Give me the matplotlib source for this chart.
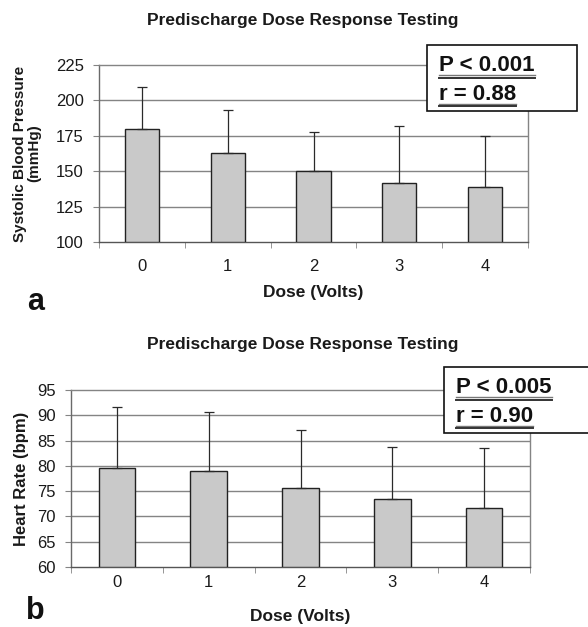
import matplotlib
matplotlib.use("Agg")
import matplotlib.pyplot as plt
import numpy as np

plt.rcParams['font.family'] = ['Liberation Sans', 'DejaVu Sans']

doses = [0, 1, 2, 3, 4]
dose_labels = ["0", "1", "2", "3", "4"]

sbp_mean = [180, 163, 150, 141.5, 138.5]
sbp_upper = [209.5, 193, 177.5, 182, 175]
sbp_ticks = [100, 125, 150, 175, 200, 225]

hr_mean = [79.5, 79.0, 75.6, 73.4, 71.6]
hr_upper = [91.6, 90.7, 87.0, 83.7, 83.5]
hr_ticks = [60, 65, 70, 75, 80, 85, 90, 95]

title = "Predischarge Dose Response Testing"
xlabel = "Dose (Volts)"
sbp_ylabel = "Systolic Blood Pressure\n(mmHg)"
hr_ylabel = "Heart Rate (bpm)"
sbp_stats = ["P < 0.001", "r = 0.88"]
hr_stats = ["P < 0.005", "r = 0.90"]

W, H = 588, 627
fig = plt.figure(figsize=(W / 100, H / 100), dpi=100)

def fx(px):
    return px / W

def fy(py):
    return 1 - py / H

GRID = '#848484'
TXT = '#1a1a1a'

def panel(box, means, uppers, ticks, ylabel, ylab_size, ylab_x, title_y, xpad,
          xlab_y, letter, letter_xy, stat_box, stats):
    l, t, r, b = box
    rect = [fx(l), fy(b), fx(r - l), (b - t) / H]
    ax = fig.add_axes(rect)
    x = np.array(doses)
    means = np.array(means)
    err = np.array(uppers) - means
    ax.bar(x, means - ticks[0], bottom=ticks[0], width=0.4, color='#c9c9c9',
           edgecolor='#222222', linewidth=1.0, zorder=3)
    ax.errorbar(x, means, yerr=[np.zeros_like(err), err], fmt='none',
                ecolor='#2a2a2a', elinewidth=0.9, capsize=3.3, capthick=0.9, zorder=4)
    ax.set_xlim(-0.5, 4.5)
    ax.set_ylim(ticks[0], ticks[-1])
    ax.set_yticks(ticks)
    ax.set_yticklabels([str(v) for v in ticks], fontsize=12, color=TXT)
    ax.set_xticks(doses)
    ax.set_xticklabels(dose_labels, fontsize=12, color=TXT)
    ax.set_xticks(np.arange(-0.5, 5.0, 1.0), minor=True)
    ax.tick_params(axis='x', which='major', length=0, pad=xpad)
    ax.tick_params(axis='x', which='minor', length=4, color=GRID, direction='out')
    ax.tick_params(axis='y', length=4, color=GRID, pad=7)
    for v in ticks[1:-1]:
        ax.axhline(v, color=GRID, lw=1.0, zorder=1)
    for s in ax.spines.values():
        s.set_color(GRID)
        s.set_linewidth(1.0)
    ax.spines['bottom'].set_color('#555555')
    ax.spines['left'].set_color('#6a6a6a')
    ax.set_facecolor('white')
    fig.text(fx(ylab_x), fy((t + b) / 2), ylabel, rotation=90,
             ha='center', va='center', fontsize=ylab_size, fontweight='bold',
             color=TXT, linespacing=1.0)
    fig.text(fx(303), fy(title_y), title, ha='center', va='center',
             fontsize=12.5, fontweight='bold', color=TXT)
    fig.text(fx((l + r) / 2), fy(xlab_y), xlabel, ha='center', va='center',
             fontsize=12.5, fontweight='bold', color=TXT)
    fig.text(fx(letter_xy[0]), fy(letter_xy[1]), letter, ha='left', va='baseline',
             fontsize=22, fontweight='bold', color='#111111')
    # stats box
    bx0, by0, bx1, by1 = stat_box
    patch = plt.Rectangle((fx(bx0), fy(by1)), fx(bx1 - bx0), (by1 - by0) / H,
                          transform=fig.transFigure, facecolor='white',
                          edgecolor='#111111', linewidth=1.2, zorder=10)
    fig.add_artist(patch)
    out = []
    for i, s in enumerate(stats):
        base = by0 + 26 + i * 28.5
        tx = fig.text(fx(bx0 + 12), fy(base), s, ha='left', va='baseline',
                      fontsize=16, fontweight='bold', color='#111111', zorder=11)
        out.append((tx, base))
    return out

texts_a = panel((99, 65, 528, 242), sbp_mean, sbp_upper, sbp_ticks, sbp_ylabel, 11,
                27, 21, 12, 292, 'a', (27, 310), (427, 45, 577, 111), sbp_stats)
texts_b = panel((71, 390, 530, 567), hr_mean, hr_upper, hr_ticks, hr_ylabel, 12,
                22, 345, 5.5, 616, 'b', (26, 619), (444, 367, 600, 433), hr_stats)

fig.canvas.draw()
r = fig.canvas.get_renderer()
for tx, base in texts_a + texts_b:
    bb = tx.get_window_extent(r)
    x0, x1 = bb.x0 / W, bb.x1 / W
    fig.add_artist(plt.Line2D([x0, x1], [fy(base + 4)] * 2, transform=fig.transFigure,
                              color='#777777', lw=1.0, zorder=12))
    fig.add_artist(plt.Line2D([x0, x1], [fy(base + 6.5)] * 2, transform=fig.transFigure,
                              color='#333333', lw=1.4, zorder=12))

fig.savefig("out.png", dpi=100, facecolor='white')
